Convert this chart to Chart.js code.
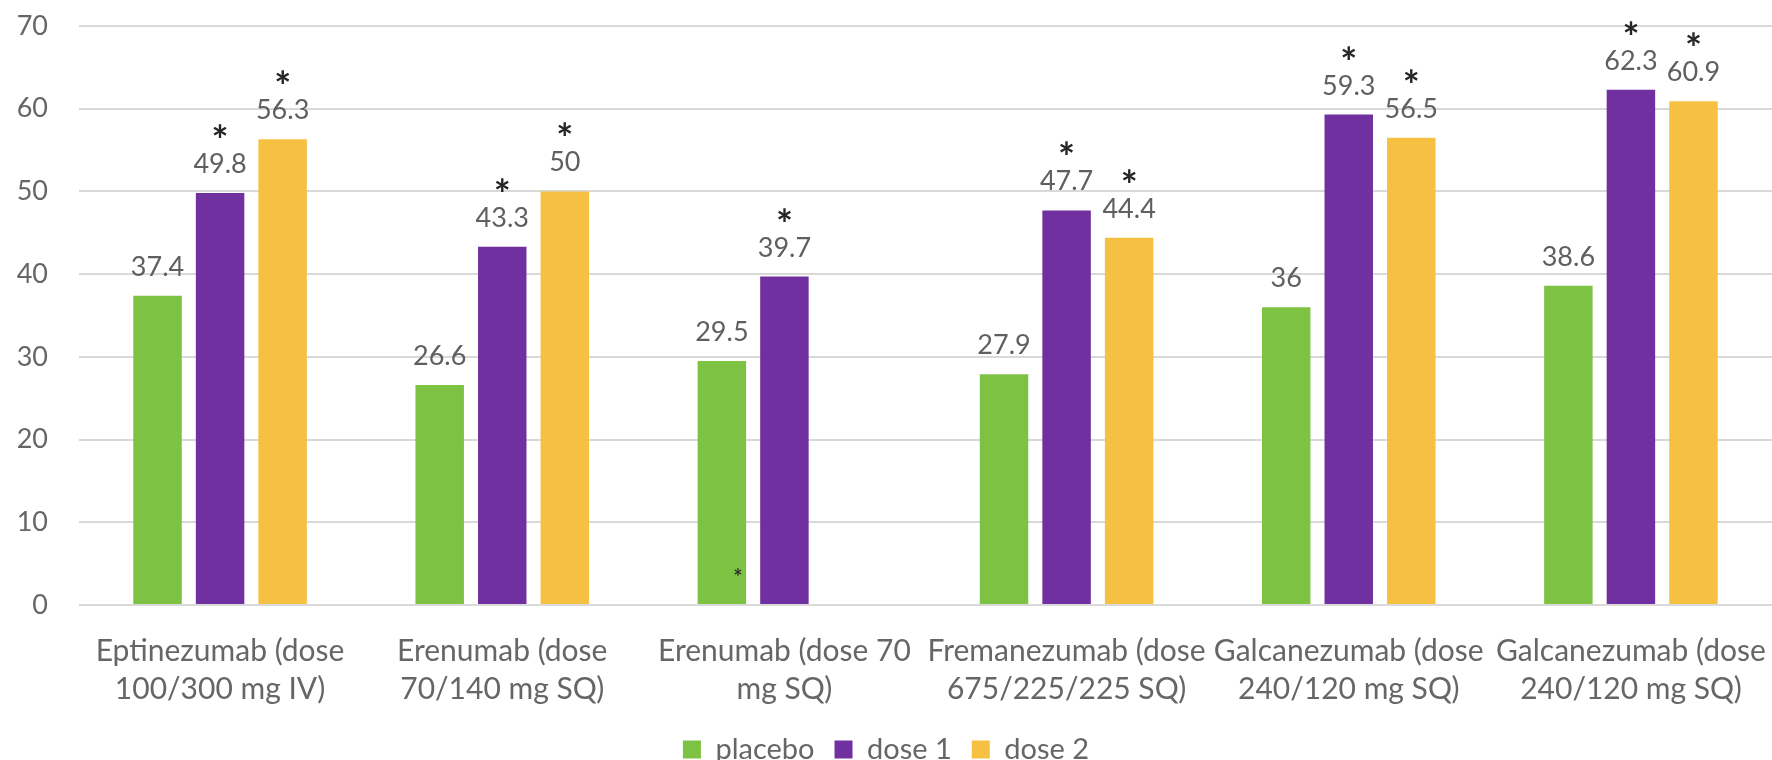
<!DOCTYPE html>
<html>
<head>
<meta charset="utf-8">
<script src="https://cdn.jsdelivr.net/npm/chart.js@4/dist/chart.umd.min.js"></script>
<style>
  html, body { margin: 0; padding: 0; background: #fff; }
  #wrap { width: 1772px; height: 760px; }
</style>
</head>
<body>
<div id="wrap"><canvas id="chart"></canvas></div>
<script>
const categories = [
    ['Eptinezumab (dose', '100/300 mg IV)'],
    ['Erenumab (dose', '70/140 mg SQ)'],
    ['Erenumab (dose 70', 'mg SQ)'],
    ['Fremanezumab (dose', '675/225/225 SQ)'],
    ['Galcanezumab (dose', '240/120 mg SQ)'],
    ['Galcanezumab (dose', '240/120 mg SQ)']
];
const placebo = [37.4, 26.6, 29.5, 27.9, 36, 38.6];
const dose1 = [49.8, 43.3, 39.7, 47.7, 59.3, 62.3];
const dose2 = [56.3, 50, null, 44.4, 56.5, 60.9];

// significance marks (* above the label), and the small stray * inside a bar
const placeboStars = [false, false, false, false, false, false];
const dose1Stars = [true, true, true, true, true, true];
const dose2Stars = [true, true, false, true, true, true];
const smallStars = [false, false, true, false, false, false];

const textGray = '#666666';
const fontFamily = 'Lato, "Open Sans", sans-serif';

// draws value labels and asterisks above bars
const labelPlugin = {
    id: 'barLabels',
    afterDatasetsDraw(chart) {
        const ctx = chart.ctx;
        const stars = [placeboStars, dose1Stars, dose2Stars];
        ctx.save();
        ctx.textAlign = 'center';
        ctx.textBaseline = 'alphabetic';
        chart.data.datasets.forEach((ds, di) => {
            const meta = chart.getDatasetMeta(di);
            meta.data.forEach((bar, i) => {
                const v = ds.data[i];
                if (v === null || v === undefined) return;
                const base = bar.y - 20;
                ctx.fillStyle = '#5f5f5f';
                ctx.font = '27px ' + fontFamily;
                ctx.fillText(String(v), bar.x, base);
                if (stars[di][i]) {
                    ctx.fillStyle = '#262626';
                    ctx.font = 'bold 40px ' + fontFamily;
                    ctx.fillText('*', bar.x, base - 18);
                }
                if (di === 0 && smallStars[i]) {
                    ctx.fillStyle = '#333';
                    ctx.font = 'bold 22px ' + fontFamily;
                    ctx.fillText('*', bar.x + 16, bar.base - 19);
                }
            });
        });
        ctx.restore();
    }
};

new Chart(document.getElementById('chart'), {
    type: 'bar',
    data: {
        labels: categories,
        datasets: [
            { label: 'placebo', data: placebo, backgroundColor: '#7dc242' },
            { label: 'dose 1', data: dose1, backgroundColor: '#7030a0' },
            { label: 'dose 2', data: dose2, backgroundColor: '#f6c142' }
        ]
    },
    options: {
        responsive: true,
        maintainAspectRatio: false,
        animation: false,
        datasets: {
            bar: { categoryPercentage: 0.665, barPercentage: 0.775 }
        },
        layout: { padding: { left: 0, right: 0, top: 0, bottom: 0 } },
        scales: {
            x: {
                grid: { display: false },
                border: { display: false },
                ticks: {
                    color: textGray,
                    font: { family: fontFamily, size: 30, lineHeight: 1.28 },
                    maxRotation: 0,
                    autoSkip: false,
                    padding: 19
                },
                afterFit(scale) {
                    scale.height = 110;
                    scale.paddingLeft = 0;
                    scale.paddingRight = 0;
                }
            },
            y: {
                min: 0,
                max: 70,
                grid: { color: '#d9d9d9', lineWidth: 2, drawTicks: false },
                border: { display: false },
                ticks: {
                    stepSize: 10,
                    color: textGray,
                    font: { family: fontFamily, size: 27 },
                    padding: 31
                },
                afterFit(scale) {
                    scale.width = 79;
                    scale.paddingTop = 26;
                    scale.paddingBottom = 0;
                }
            }
        },
        plugins: {
            legend: {
                position: 'bottom',
                maxHeight: 45,
                labels: {
                    boxWidth: 18,
                    boxHeight: 18,
                    padding: 20,
                    color: textGray,
                    font: { family: fontFamily, size: 29 }
                }
            },
            tooltip: { enabled: false }
        }
    },
    plugins: [labelPlugin]
});
</script>
</body>
</html>
